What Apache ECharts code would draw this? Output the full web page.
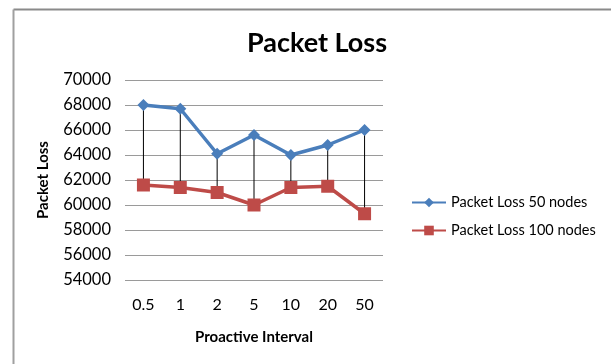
<!DOCTYPE html>
<html>
<head>
<meta charset="utf-8">
<script src="https://cdn.jsdelivr.net/npm/echarts@6/dist/echarts.min.js"></script>
<style>
html,body{margin:0;padding:0;background:#fff;}
#chart{width:611px;height:364px;}
</style>
</head>
<body>
<div id="chart"></div>
<script>
// Proactive interval settings on the x axis
const categories = ['0.5', '1', '2', '5', '10', '20', '50'];
// Packet loss per interval
const loss50 = [68000, 67700, 64100, 65600, 64000, 64800, 66000];
const loss100 = [61600, 61400, 61000, 60000, 61400, 61500, 59300];
const seriesNames = ['Packet Loss 50 nodes', 'Packet Loss 100 nodes'];

const FONT = 'Lato';
const chart = echarts.init(document.getElementById('chart'));

// high/low pairs for the drop lines joining the two series
const dropData = categories.map((c, i) => [i, loss50[i], loss100[i]]);

chart.setOption({
  animation: false,
  backgroundColor: '#fff',
  textStyle: { fontFamily: FONT },
  title: {
    text: 'Packet Loss',
    left: 312, top: 25, textAlign: 'center',
    textStyle: { fontFamily: FONT, fontSize: 27, fontWeight: 'bold', color: '#000' }
  },
  graphic: [
    { type: 'line', shape: { x1: 13.5, y1: 9.5, x2: 611, y2: 9.5 }, style: { stroke: '#8a8a8a', lineWidth: 2 } },
    { type: 'line', shape: { x1: 13.5, y1: 9.5, x2: 13.5, y2: 364 }, style: { stroke: '#a0a0a0', lineWidth: 2 } }
  ],
  legend: {
    orient: 'vertical',
    left: 406, top: 190,
    itemWidth: 34, itemHeight: 12, itemGap: 13,
    data: seriesNames,
    textStyle: { fontFamily: FONT, fontSize: 14.5, color: '#000' }
  },
  grid: { left: 125, right: 228, top: 80, bottom: 84 },
  xAxis: {
    type: 'category',
    data: categories,
    boundaryGap: true,
    name: 'Proactive Interval',
    nameLocation: 'middle',
    nameGap: 50,
    nameTextStyle: { fontFamily: FONT, fontSize: 15, fontWeight: 'bold', color: '#000' },
    axisLine: { show: false },
    axisTick: { show: false },
    axisLabel: { fontFamily: FONT, fontSize: 16, color: '#000', margin: 17 }
  },
  yAxis: {
    type: 'value',
    min: 54000, max: 70000, interval: 2000,
    name: 'Packet Loss',
    nameLocation: 'middle',
    nameGap: 74,
    nameTextStyle: { fontFamily: FONT, fontSize: 15, fontWeight: 'bold', color: '#000' },
    axisLine: { show: false },
    axisTick: { show: false },
    axisLabel: {
      fontFamily: FONT, fontSize: 16.5, color: '#000', margin: 14,
      formatter: function (v) { return String(v); }
    },
    splitLine: { lineStyle: { color: '#9a9a9a', width: 1 } }
  },
  series: [
    {
      type: 'custom',
      silent: true,
      z: 1,
      data: dropData,
      encode: { x: 0, y: [1, 2] },
      renderItem: function (params, api) {
        const top = api.coord([api.value(0), api.value(1)]);
        const bot = api.coord([api.value(0), api.value(2)]);
        return {
          type: 'line',
          shape: { x1: top[0], y1: top[1], x2: bot[0], y2: bot[1] },
          style: { stroke: '#000', lineWidth: 1 }
        };
      }
    },
    {
      name: seriesNames[0],
      type: 'line',
      z: 3,
      data: loss50,
      symbol: 'diamond',
      symbolSize: 12,
      itemStyle: { color: '#4a7ebb' },
      lineStyle: { color: '#4a7ebb', width: 3.5 }
    },
    {
      name: seriesNames[1],
      type: 'line',
      z: 2,
      data: loss100,
      symbol: 'rect',
      symbolSize: 13,
      itemStyle: { color: '#be4b48' },
      lineStyle: { color: '#be4b48', width: 3.5 }
    }
  ]
});
</script>
</body>
</html>
